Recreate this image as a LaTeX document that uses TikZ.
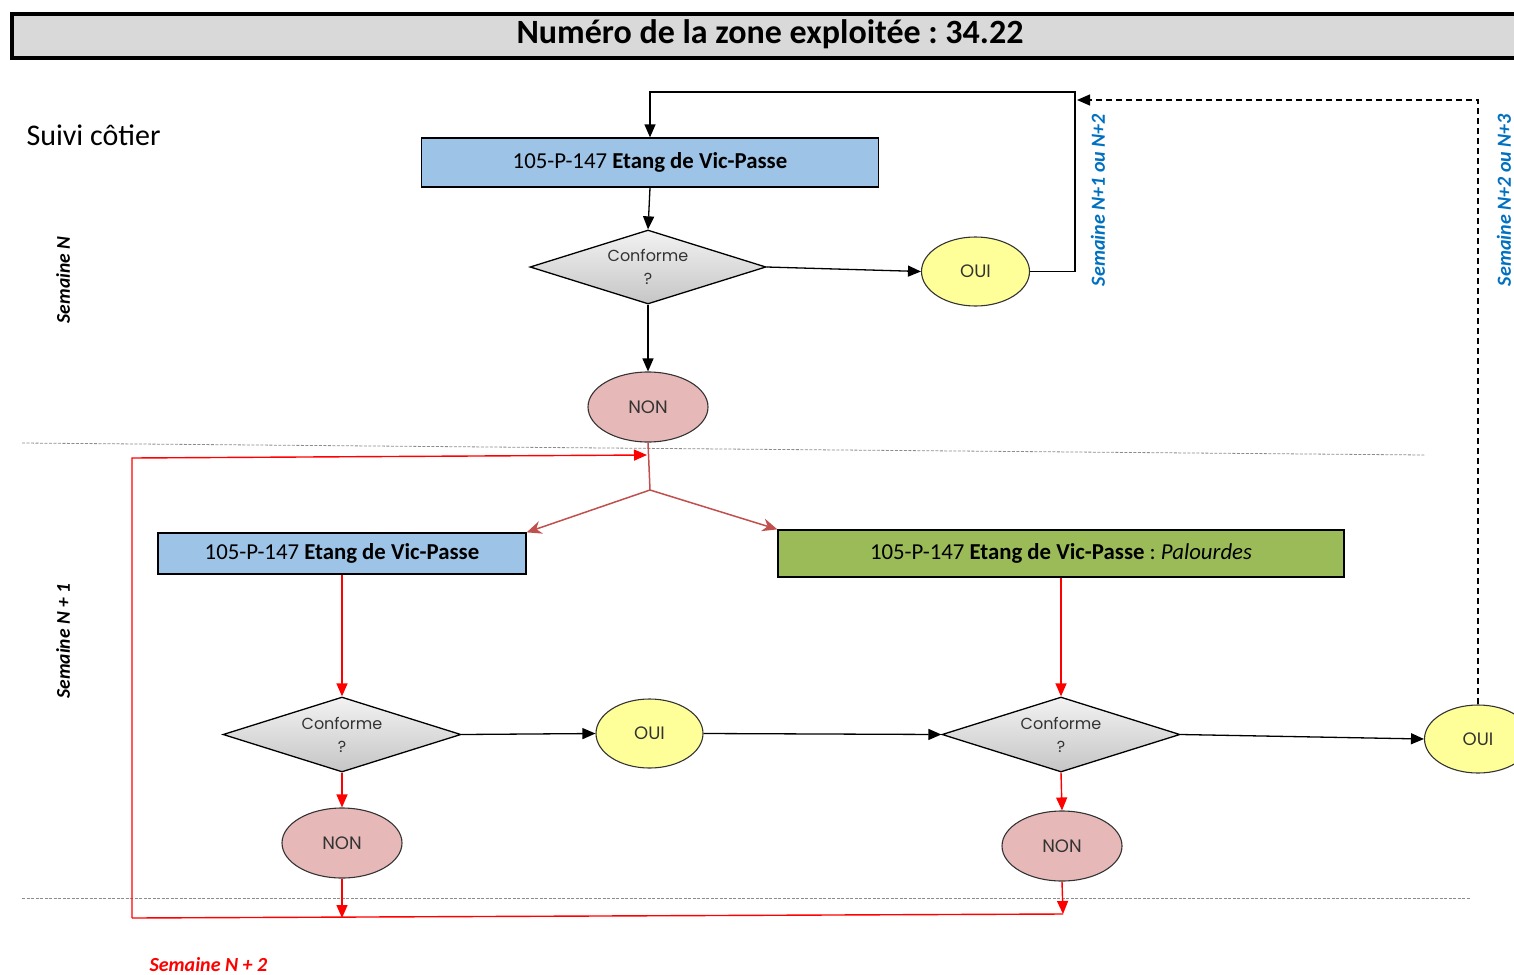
\documentclass[tikz,border=0pt]{standalone}
\usepackage{fontspec}
\setmainfont{Carlito}
\newfontfamily\geo{Poppins}
\usetikzlibrary{shapes.geometric,arrows.meta}
\frenchspacing
\definecolor{boxblue}{HTML}{9DC3E6}
\definecolor{boxgreen}{HTML}{9BBB59}
\definecolor{ouiyellow}{HTML}{FFFF99}
\definecolor{nonpink}{HTML}{E6B9B8}
\definecolor{semblue}{HTML}{0070C0}
\definecolor{splitred}{HTML}{C0504D}
\definecolor{titlegray}{HTML}{D9D9D9}
\definecolor{sepgray}{HTML}{8C8C8C}
\definecolor{shapetext}{HTML}{333333}
\tikzset{
  rect/.style={draw=black, line width=1.3pt, inner sep=0pt, font=\fontsize{22.8}{26}\selectfont},
  decision/.style={diamond, shape aspect=3.2, draw=black, line width=1.3pt, inner sep=0pt, top color=gray!10, bottom color=gray!45, align=center, text=shapetext, font=\geo\fontsize{16}{23}\selectfont},
  oval/.style={ellipse, draw=black!80, line width=1.1pt, inner sep=0pt, text=shapetext, font=\geo\fontsize{18}{20}\selectfont},
  oui/.style={oval, fill=ouiyellow, minimum width=108pt, minimum height=69pt},
  non/.style={oval, fill=nonpink, minimum width=120pt, minimum height=70pt},
  blk/.style={draw=black, line width=1.3pt, -{Triangle[length=13pt,width=11pt]}},
  redarr/.style={draw=red, line width=1.4pt, -{Triangle[length=13pt,width=11pt]}},
  redline/.style={draw=red, line width=1.4pt},
  splitarr/.style={draw=splitred, line width=1.5pt, -{Stealth[length=15pt,width=13pt]}},
  sep/.style={draw=sepgray, line width=0.8pt, dash pattern=on 3pt off 1.5pt},
  semleft/.style={rotate=90, font=\fontsize{19.5}{22}\selectfont\bfseries\itshape},
  semblue/.style={rotate=90, text=semblue, font=\fontsize{20}{23}\selectfont\bfseries\itshape},
}
\begin{document}
\begin{tikzpicture}[x=1pt,y=-1pt]
\path[use as bounding box] (0,0) rectangle (1514,974);
\clip (0,0) rectangle (1514,974);
% title
\node[draw=black, line width=4pt, fill=titlegray, minimum width=1530pt, minimum height=44pt, inner sep=0pt, anchor=north west] (title) at (10,12) {};
\node[font=\fontsize{34}{40}\selectfont\bfseries] (titletext) at (770,34) {Numéro de la zone exploitée : 34.22};
\node[anchor=west, font=\fontsize{30}{34}\selectfont] (suivi) at (23,135) {Suivi côtier};
% separators
\coordinate (s1a) at (22,443); \coordinate (s1b) at (1425,455);
\coordinate (s2a) at (22,898); \coordinate (s2b) at (1470,898);
\draw[sep] (s1a) -- (s1b);
\draw[sep] (s2a) -- (s2b);
% week labels
\node[semleft] (semN) at (63,280) {Semaine N};
\node[semleft] (semN1) at (63,641) {Semaine N + 1};
\node[anchor=west, text=red, font=\fontsize{20}{23}\selectfont\bfseries\itshape] (semN2) at (146,965) {Semaine N + 2};
\node[semblue] (sb1) at (1098,200) {Semaine N+1 ou N+2};
\node[semblue] (sb2) at (1504,200) {Semaine N+2 ou N+3};
% nodes
\node[rect, fill=boxblue, minimum width=457pt, minimum height=49pt] (box1) at (650,162.5) {105-P-147 \textbf{Etang de Vic-Passe}};
\node[decision, minimum width=236pt, minimum height=74pt] (d1) at (648,267) {Conforme\\?};
\node[oui] (oui1) at (975.5,271.5) {OUI};
\node[non] (non1) at (648,407) {NON};
\node[rect, fill=boxblue, minimum width=368pt, minimum height=41pt] (box2) at (342,553.5) {105-P-147 \textbf{Etang de Vic-Passe}};
\node[rect, fill=boxgreen, minimum width=566pt, minimum height=47pt] (box3) at (1061,553.5) {105-P-147 \textbf{Etang de Vic-Passe} : \textit{Palourdes}};
\node[decision, minimum width=238pt, minimum height=75pt] (d2) at (342,734.5) {Conforme\\?};
\node[decision, minimum width=238pt, minimum height=75pt] (d3) at (1061,734.5) {Conforme\\?};
\node[oui, minimum width=107pt] (oui2) at (649.5,733.5) {OUI};
\node[oui, minimum width=107pt, minimum height=68pt] (oui3) at (1478,739) {OUI};
\node[non] (non2) at (342,843) {NON};
\node[non] (non3) at (1062,846) {NON};
% top black connectors
\draw[blk] (box1.south) -- (d1.north);
\draw[blk] (d1.south) -- (non1.north);
\draw[blk] (d1.east) -- (oui1.west);
\coordinate (loop1) at (1075,92);
\draw[blk] (oui1.east) -| (loop1) -| (box1.north);
\coordinate (dashend) at (1077,100);
\draw[draw=black, line width=1.3pt, dash pattern=on 6pt off 4pt, -{Triangle[length=13pt,width=11pt]}] (oui3.north) |- (dashend);
% split
\coordinate (split) at (650,490);
\draw[draw=splitred, line width=1.5pt] (non1.south) -- (split);
\draw[splitarr] (split) -- (box2.north east);
\draw[splitarr] (split) -- (box3.north west);
% red loop
\coordinate (botL) at (132,918);
\coordinate (topL) at (132,458);
\coordinate (join) at (647,455);
\coordinate (botR) at (1063,914);
\draw[redarr] (botL) -- (topL) -- (join);
\draw[redline] (botL) -- (botR);
\draw[redarr] (box2.south) -- (d2.north);
\draw[redarr] (box3.south) -- (d3.north);
\draw[redarr] (d2.south) -- (non2.north);
\draw[redarr] (d3.south) -- (non3.north);
\draw[redarr] (non2.south) -- (non2.south |- botL);
\draw[redarr] (non3.south) -- (botR);
% bottom black connectors
\draw[blk] (d2.east) -- (oui2.west);
\draw[blk] (oui2.east) -- (d3.west);
\draw[blk] (d3.east) -- (oui3.west);
\end{tikzpicture}
\end{document}
